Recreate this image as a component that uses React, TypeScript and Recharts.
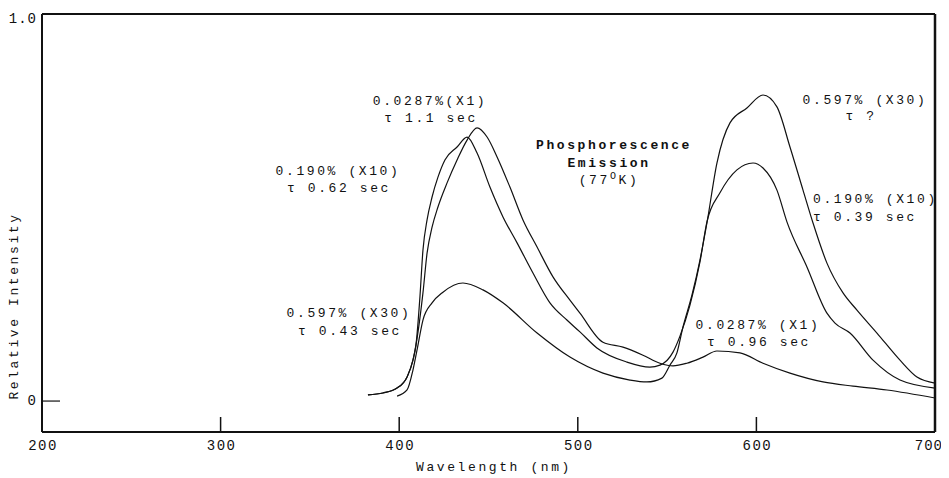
import React from 'react';
import { LineChart, Line, XAxis, YAxis, ReferenceLine } from 'recharts';

// Axis ticks
const xTicks = [200, 300, 400, 500, 600, 700];
const yTicks = [0, 1.0];
const yTickLabels = ['0', '1.0'];
const X_MIN = 200;
const X_MAX = 700;
const Y_MIN = -0.081;
const Y_MAX = 1.013;

// Series names
const seriesNames = ['0.0287% (X1)', '0.190% (X10)', '0.597% (X30)'];

// 0.0287% (X1)
const wlX1 = [382.5, 390.9, 398.8, 404.4, 407.7, 409.4, 413.3, 415.6, 418.4, 421.7, 426.8, 432.4, 438.0, 443.6, 449.2, 454.8, 462.0, 469.3, 477.2, 486.1, 495.6, 501.2, 514.1, 525.3, 536.5, 546.0, 553.3, 561.1, 570.1, 577.9, 590.8, 603.7, 618.8, 637.3, 654.1, 673.1, 700];
const intX1 = [0.016, 0.021, 0.034, 0.063, 0.107, 0.147, 0.283, 0.387, 0.455, 0.508, 0.571, 0.631, 0.683, 0.715, 0.691, 0.639, 0.560, 0.474, 0.403, 0.325, 0.264, 0.230, 0.154, 0.141, 0.120, 0.099, 0.092, 0.099, 0.115, 0.131, 0.126, 0.099, 0.073, 0.050, 0.039, 0.029, 0.008];

// 0.190% (X10)
const wlX10 = [382.5, 390.9, 398.8, 404.4, 407.7, 409.4, 411.6, 413.3, 415.6, 418.4, 421.7, 425.6, 432.4, 438.0, 443.6, 450.8, 458.1, 466.0, 474.9, 484.4, 493.9, 501.2, 510.7, 527.5, 540.4, 546.0, 553.3, 557.2, 562.8, 568.4, 572.3, 579.6, 589.1, 598.1, 603.7, 611.5, 617.1, 628.3, 639.5, 644.0, 652.4, 665.3, 680.4, 700];
const intX10 = [0.016, 0.021, 0.034, 0.063, 0.107, 0.147, 0.272, 0.395, 0.474, 0.534, 0.586, 0.631, 0.665, 0.691, 0.649, 0.560, 0.482, 0.414, 0.335, 0.257, 0.212, 0.181, 0.139, 0.102, 0.089, 0.094, 0.128, 0.170, 0.251, 0.364, 0.469, 0.545, 0.605, 0.623, 0.610, 0.552, 0.469, 0.351, 0.230, 0.204, 0.178, 0.107, 0.055, 0.034];

// 0.597% (X30)
const wlX30 = [398.8, 404.4, 407.7, 410.0, 413.3, 418.4, 424.5, 435.7, 446.9, 458.1, 477.2, 495.6, 514.1, 529.2, 538.7, 547.1, 551.6, 555.5, 558.9, 563.9, 568.4, 572.3, 577.9, 585.2, 594.7, 603.7, 611.5, 618.8, 626.1, 631.7, 639.5, 648.5, 656.3, 667.5, 680.4, 689.9, 700];
const intX30 = [0.013, 0.029, 0.081, 0.134, 0.212, 0.257, 0.285, 0.309, 0.291, 0.257, 0.178, 0.115, 0.073, 0.055, 0.050, 0.060, 0.094, 0.126, 0.194, 0.277, 0.369, 0.466, 0.623, 0.728, 0.767, 0.801, 0.770, 0.665, 0.552, 0.466, 0.361, 0.283, 0.238, 0.178, 0.107, 0.063, 0.047];

const toRows = (xs: number[], ys: number[]) => xs.map((x, i) => ({ x, y: ys[i] }));
const seriesData = [toRows(wlX1, intX1), toRows(wlX10, intX10), toRows(wlX30, intX30)];

const FONT = '"Liberation Mono", "Courier New", "DejaVu Sans Mono", "Noto Sans Mono", Courier, monospace';
const INK = '#111';

const XTick = (props: any) => {
  const { x, y, payload } = props;
  const v = payload.value;
  const inner = v !== X_MIN && v !== X_MAX;
  const isLast = v === X_MAX;
  return (
    <g>
      {inner && <line x1={x} y1={y} x2={x} y2={y - 15} stroke={INK} strokeWidth={1.5} />}
      <text
        x={isLast ? x + 8 : x + 1}
        y={y + 14}
        textAnchor={isLast ? 'end' : 'middle'}
        dominantBaseline="central"
        style={{ fontFamily: FONT, fontSize: 14, letterSpacing: isLast ? 1 : 1.5 }}
        fill={INK}
      >
        {String(v)}
      </text>
    </g>
  );
};

const YTick = (props: any) => {
  const { x, y, payload } = props;
  const v = payload.value;
  const idx = yTicks.indexOf(v);
  return (
    <g>
      {v === 0 && <line x1={x} y1={y} x2={x + 18} y2={y} stroke={INK} strokeWidth={1.2} />}
      <text x={x - 5} y={y} textAnchor="end" dominantBaseline="central" style={{ fontFamily: FONT, fontSize: 14, letterSpacing: 1 }} fill={INK}>
        {idx >= 0 ? yTickLabels[idx] : String(v)}
      </text>
    </g>
  );
};

const T = (p: { x: number; y: number; children: React.ReactNode; anchor?: string; bold?: boolean }) => (
  <text
    x={p.x}
    y={p.y}
    textAnchor={(p.anchor as any) || 'middle'}
    dominantBaseline="central"
    style={{ fontFamily: FONT, fontSize: 13, letterSpacing: 2.6, fontWeight: p.bold ? 'bold' : 'normal' }}
    fill={INK}
  >
    {p.children}
  </text>
);

export default function App() {
  return (
    <div style={{ position: 'relative', width: 941, height: 470, background: '#fff' }}>
      <LineChart width={941} height={470} data={seriesData[0]} margin={{ top: 6, right: 14, bottom: 0, left: 0 }}>
        <XAxis
          dataKey="x"
          type="number"
          domain={[X_MIN, X_MAX]}
          ticks={xTicks}
          allowDataOverflow
          height={46}
          tickSize={0}
          tickMargin={0}
          tickLine={false}
          axisLine={{ stroke: INK, strokeWidth: 2 }}
          tick={<XTick />}
          interval={0}
        />
        <YAxis
          type="number"
          domain={[Y_MIN, Y_MAX]}
          ticks={yTicks}
          allowDataOverflow
          width={34}
          tickSize={0}
          tickMargin={0}
          tickLine={false}
          axisLine={{ stroke: INK, strokeWidth: 2 }}
          tick={<YTick />}
          interval={0}
        />
        <ReferenceLine y={Y_MAX} stroke={INK} strokeWidth={2} ifOverflow="extendDomain" />
        <ReferenceLine x={X_MAX} stroke={INK} strokeWidth={2.5} />
        {seriesData.map((d, i) => (
          <Line
            key={seriesNames[i]}
            name={seriesNames[i]}
            data={d}
            dataKey="y"
            type="monotone"
            stroke={INK}
            strokeWidth={1.2}
            dot={false}
            activeDot={false}
            isAnimationActive={false}
          />
        ))}
      </LineChart>
      <svg width={941} height={470} style={{ position: 'absolute', left: 0, top: 0, pointerEvents: 'none', overflow: 'visible' }}>
        <g transform="translate(-8,-8)">
          <text x={14} y={306} transform="rotate(-90 14 306)" textAnchor="middle" dominantBaseline="central" style={{ fontFamily: FONT, fontSize: 13, letterSpacing: 2.6 }} fill={INK}>
            Relative Intensity
          </text>
          <T x={494} y={467}>Wavelength (nm)</T>

          <T x={430} y={101}>0.0287%(X1)</T>
          <T x={431} y={118}>τ 1.1 sec</T>
          <T x={338} y={171}>0.190% (X10)</T>
          <T x={339} y={188}>τ 0.62 sec</T>
          <T x={349} y={313}>0.597% (X30)</T>
          <T x={350} y={331}>τ 0.43 sec</T>

          <T x={614} y={145} bold>Phosphorescence</T>
          <T x={609} y={163} bold>Emission</T>
          <text x={609} y={180} textAnchor="middle" dominantBaseline="central" style={{ fontFamily: FONT, fontSize: 13, letterSpacing: 2.6 }} fill={INK}>
            (77<tspan style={{ fontSize: 10 }} dy={-4}>O</tspan><tspan dy={4}>K)</tspan>
          </text>

          <T x={865} y={100}>0.597% (X30)</T>
          <T x={861} y={116}>τ ?</T>
          <T x={813} y={199} anchor="start">0.190% (X10)</T>
          <T x={813} y={217} anchor="start">τ 0.39 sec</T>
          <T x={758} y={325}>0.0287% (X1)</T>
          <T x={759} y={342}>τ 0.96 sec</T>
        </g>
      </svg>
    </div>
  );
}
